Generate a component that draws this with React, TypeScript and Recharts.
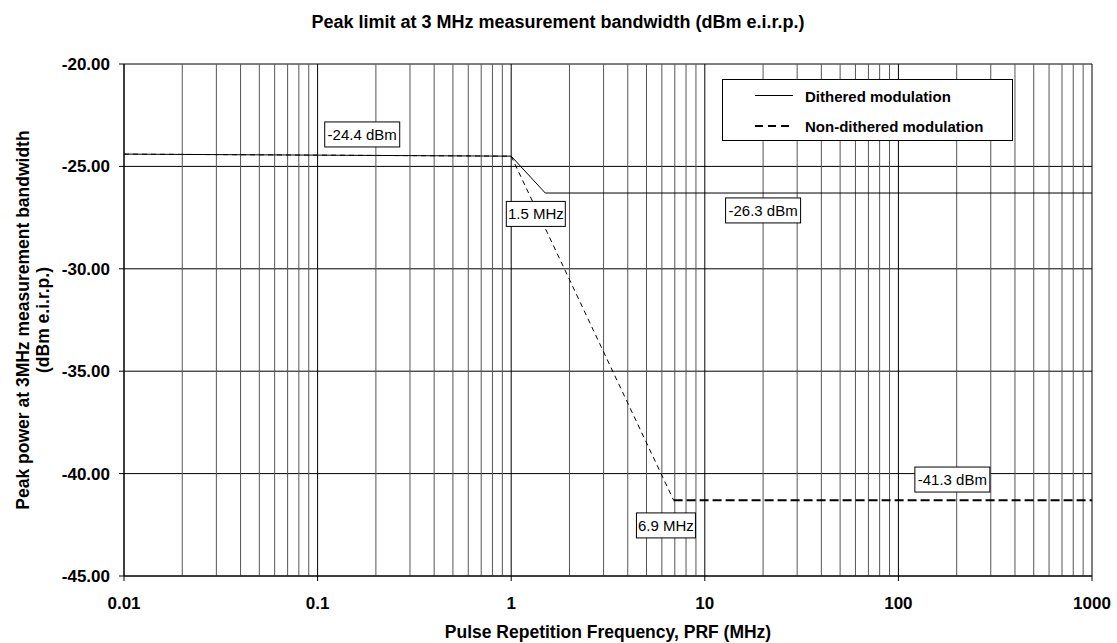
import React from 'react'
import {
  ComposedChart,
  Line,
  XAxis,
  YAxis,
  CartesianGrid,
  ReferenceLine,
  ReferenceDot,
} from 'recharts'

const FONT = "'Liberation Sans', Arial, Helvetica, sans-serif"

// Dithered modulation (solid)
const ditheredFreq = [0.01, 1, 1.5, 1000]
const ditheredLevel = [-24.4, -24.5, -26.3, -26.3]

// Non-dithered modulation (dashed) - slope part and flat part
const nonDitheredSlopeFreq = [0.01, 1, 6.9]
const nonDitheredSlopeLevel = [-24.4, -24.5, -41.3]
const nonDitheredFlatFreq = [6.9, 1000]
const nonDitheredFlatLevel = [-41.3, -41.3]

// axes
const xTicks = [0.01, 0.1, 1, 10, 100, 1000]
const xTickLabels = ['0.01', '0.1', '1', '10', '100', '1000']
const yTicks = [-45, -40, -35, -30, -25, -20]
const minorMultipliers = [2, 3, 4, 5, 6, 7, 8, 9]

// annotation boxes
const noteText = ['-24.4 dBm', '1.5 MHz', '-26.3 dBm', '6.9 MHz', '-41.3 dBm']
const noteFreq = [0.17, 1.34, 20, 6.3, 190]
const noteLevel = [-23.44, -27.32, -27.15, -42.53, -40.29]

const toRows = (f: number[], v: number[]) => f.map((x, i) => ({ f: x, v: v[i] }))

const ditheredData = toRows(ditheredFreq, ditheredLevel)
const slopeData = toRows(nonDitheredSlopeFreq, nonDitheredSlopeLevel)
const flatData = toRows(nonDitheredFlatFreq, nonDitheredFlatLevel)

const minorGrid = xTicks
  .slice(0, -1)
  .flatMap(d => minorMultipliers.map(m => +(d * m).toPrecision(6)))

const NoteBox = ({ cx, cy, text }: { cx?: number; cy?: number; text: string }) => {
  if (cx == null || cy == null) return null
  const w = text.length * 8 + 3
  return (
    <g>
      <rect x={cx - w / 2} y={cy - 12.5} width={w} height={25} fill="#fff" stroke="#000" />
      <text x={cx} y={cy + 5.5} textAnchor="middle" fontSize={15} fontFamily={FONT} fill="#000">
        {text}
      </text>
    </g>
  )
}

const XTitle = (props: any) => {
  const { x, y, width } = props.viewBox
  return (
    <text x={x + width / 2} y={y + 62} textAnchor="middle" fontSize={17.5} fontWeight="bold" fontFamily={FONT} fill="#000">
      Pulse Repetition Frequency, PRF (MHz)
    </text>
  )
}

const YTitle = (props: any) => {
  const { y, height } = props.viewBox
  const cy = y + height / 2
  return (
    <g>
      <text x={29} y={cy} transform={`rotate(-90, 29, ${cy})`} textAnchor="middle" fontSize={17.5} fontWeight="bold" fontFamily={FONT} fill="#000">
        Peak power at 3MHz measurement bandwidth
      </text>
      <text x={49} y={cy} transform={`rotate(-90, 49, ${cy})`} textAnchor="middle" fontSize={17.5} fontWeight="bold" fontFamily={FONT} fill="#000">
        (dBm e.i.r.p.)
      </text>
    </g>
  )
}

export default function App() {
  return (
    <div style={{ position: 'absolute', left: 0, top: 0, width: 1117, height: 643, background: '#fff', fontFamily: FONT }}>
      <ComposedChart width={1117} height={643} margin={{ top: 64, right: 25, bottom: 0, left: 0 }}>
        <CartesianGrid stroke="#000" />
        {minorGrid.map(v => (
          <ReferenceLine key={v} x={v} stroke="#555" />
        ))}
        <XAxis
          dataKey="f"
          type="number"
          scale="log"
          domain={[0.01, 1000]}
          allowDataOverflow
          ticks={xTicks}
          tickFormatter={(v: number) => xTickLabels[xTicks.indexOf(v)] ?? String(v)}
          height={67}
          tickSize={5}
          tickMargin={16}
          stroke="#000"
          tick={{ fill: '#000', fontSize: 17, fontWeight: 'bold', fontFamily: FONT }}
          label={<XTitle />}
        />
        <YAxis
          type="number"
          domain={[-45, -20]}
          ticks={yTicks}
          width={124}
          tickSize={5}
          tickMargin={9}
          stroke="#000"
          tickFormatter={(v: number) => v.toFixed(2)}
          tick={{ fill: '#000', fontSize: 17, fontWeight: 'bold', fontFamily: FONT }}
          label={<YTitle />}
        />
        <Line data={ditheredData} dataKey="v" stroke="#000" strokeWidth={1} dot={false} activeDot={false} isAnimationActive={false} />
        <Line data={slopeData} dataKey="v" stroke="#000" strokeWidth={1} strokeDasharray="5 4" dot={false} activeDot={false} isAnimationActive={false} />
        <Line data={flatData} dataKey="v" stroke="#000" strokeWidth={2} strokeDasharray="9 4" dot={false} activeDot={false} isAnimationActive={false} />
        {noteText.map((t, i) => (
          <ReferenceDot
            key={t}
            x={noteFreq[i]}
            y={noteLevel[i]}
            r={0}
            ifOverflow="visible"
            shape={(p: any) => <NoteBox cx={p.cx} cy={p.cy} text={t} />}
          />
        ))}
      </ComposedChart>
      <svg width={1117} height={643} style={{ position: 'absolute', left: 0, top: 0, pointerEvents: 'none' }}>
        <text x={558} y={28} textAnchor="middle" fontSize={18} fontWeight="bold" fontFamily={FONT} fill="#000">
          Peak limit at 3 MHz measurement bandwidth (dBm e.i.r.p.)
        </text>
        <g>
          <rect x={722.5} y={79.5} width={290} height={61} fill="#fff" stroke="#000" />
          <line x1={755} x2={793} y1={95.5} y2={95.5} stroke="#000" strokeWidth={1} />
          <text x={805} y={101.5} fontSize={15} fontWeight="bold" fontFamily={FONT} fill="#000">
            Dithered modulation
          </text>
          <line x1={755} x2={793} y1={126} y2={126} stroke="#000" strokeWidth={2} strokeDasharray="8 5" />
          <text x={805} y={132} fontSize={15} fontWeight="bold" fontFamily={FONT} fill="#000">
            Non-dithered modulation
          </text>
        </g>
      </svg>
    </div>
  )
}
